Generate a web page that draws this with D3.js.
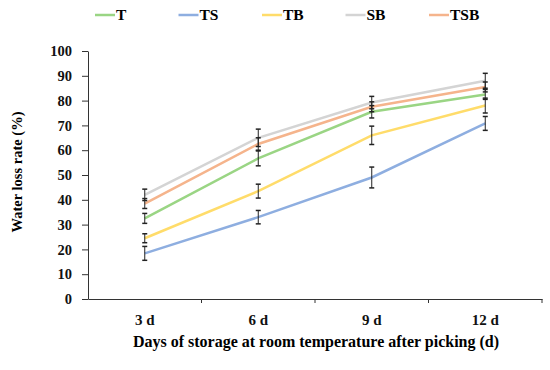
<!DOCTYPE html>
<html>
<head>
<meta charset="utf-8">
<script src="https://cdn.jsdelivr.net/npm/d3@7"></script>
<style>
  body { margin: 0; background: #fff; }
  text { font-family: "Liberation Serif", "Times New Roman", serif; font-weight: bold; }
  .axis path, .axis line { stroke: #333; }
</style>
</head>
<body>
<div id="vis"></div>
<script>
// storage days on the x axis
var days = ["3 d", "6 d", "9 d", "12 d"];
var yTicks = [0, 10, 20, 30, 40, 50, 60, 70, 80, 90, 100];

// water loss rate (%), one array per treatment
var T   = [32.5, 56.7, 75.5, 82.5];
var TS  = [18.4, 33.0, 49.0, 70.8];
var TB  = [24.5, 43.5, 66.0, 78.0];
var SB  = [42.0, 65.0, 79.2, 88.0];
var TSB = [38.5, 62.5, 77.5, 85.5];

// error bar half widths
var errT   = [2.0, 3.0, 2.5, 2.0];
var errTS  = [2.8, 2.7, 4.2, 2.8];
var errTB  = [1.8, 2.8, 3.7, 3.0];
var errSB  = [2.3, 3.5, 2.5, 3.0];
var errTSB = [2.0, 2.5, 2.0, 2.0];

var seriesNames = ["T", "TS", "TB", "SB", "TSB"];
var colors = ["#9ad584", "#8eaee0", "#ffdc6a", "#d4d4d4", "#f5b48c"];

var series = [
  {name: "T", values: T, err: errT},
  {name: "TS", values: TS, err: errTS},
  {name: "TB", values: TB, err: errTB},
  {name: "SB", values: SB, err: errSB},
  {name: "TSB", values: TSB, err: errTSB}
];

var width = 550, height = 370;
var svg = d3.select("#vis").append("svg")
    .attr("width", width)
    .attr("height", height);

var xScale = d3.scaleBand().domain(days).range([88, 542]).padding(0);
var yScale = d3.scaleLinear().domain([0, 100]).range([299, 51]);
var color = d3.scaleOrdinal().domain(seriesNames).range(colors);

// y axis
var yAxis = d3.axisLeft(yScale).tickValues(yTicks).tickSize(6).tickPadding(10).tickSizeOuter(0);
svg.append("g")
    .attr("class", "axis")
    .attr("transform", "translate(88,0)")
    .call(yAxis)
    .selectAll("text")
    .style("font-size", "14.5px")
    .attr("fill", "#111");

// x axis, labels centred in band, ticks at band edges
var xAxis = d3.axisBottom(xScale).tickSize(0).tickPadding(15).tickSizeOuter(0);
var xg = svg.append("g")
    .attr("class", "axis")
    .attr("transform", "translate(0,299)")
    .call(xAxis);
xg.selectAll("text").style("font-size", "15px").attr("fill", "#111");
xg.selectAll(".edge").data(days).enter().append("line")
    .attr("class", "edge")
    .attr("x1", function(d) { return xScale(d) + xScale.bandwidth(); })
    .attr("x2", function(d) { return xScale(d) + xScale.bandwidth(); })
    .attr("y1", 0)
    .attr("y2", 4)
    .attr("stroke", "#333");

// axis titles
svg.append("text")
    .attr("transform", "translate(22,172) rotate(-90)")
    .attr("text-anchor", "middle")
    .style("font-size", "14.5px")
    .text("Water loss rate (%)");

svg.append("text")
    .attr("x", 316)
    .attr("y", 347)
    .attr("text-anchor", "middle")
    .style("font-size", "16px")
    .text("Days of storage at room temperature after picking (d)");

var cx = function(i) { return xScale(days[i]) + xScale.bandwidth() / 2; };

// lines
var line = d3.line()
    .x(function(d, i) { return cx(i); })
    .y(function(d) { return yScale(d); });

svg.selectAll(".series").data(series).enter().append("path")
    .attr("class", "series")
    .attr("d", function(s) { return line(s.values); })
    .attr("fill", "none")
    .attr("stroke", function(s) { return color(s.name); })
    .attr("stroke-width", 2.5);

// error bars
series.forEach(function(s) {
  var g = svg.append("g");
  s.values.forEach(function(v, i) {
    var x = cx(i), hi = yScale(v + s.err[i]), lo = yScale(v - s.err[i]);
    g.append("line").attr("x1", x).attr("x2", x).attr("y1", hi).attr("y2", lo)
      .attr("stroke", "#222").attr("stroke-width", 1);
    [hi, lo].forEach(function(y) {
      g.append("line").attr("x1", x - 2.5).attr("x2", x + 2.5).attr("y1", y).attr("y2", y)
        .attr("stroke", "#222").attr("stroke-width", 1.5);
    });
  });
});

// legend
var legend = svg.selectAll(".legend").data(seriesNames).enter().append("g")
    .attr("class", "legend")
    .attr("transform", function(d, i) { return "translate(" + (95 + i * 83.5) + ",15)"; });
legend.append("line")
    .attr("x1", 0).attr("x2", 20).attr("y1", 0).attr("y2", 0)
    .attr("stroke", function(d) { return color(d); })
    .attr("stroke-width", 2.5);
legend.append("text")
    .attr("x", 21)
    .attr("y", 5)
    .style("font-size", "15.5px")
    .text(function(d) { return d; });
</script>
</body>
</html>
